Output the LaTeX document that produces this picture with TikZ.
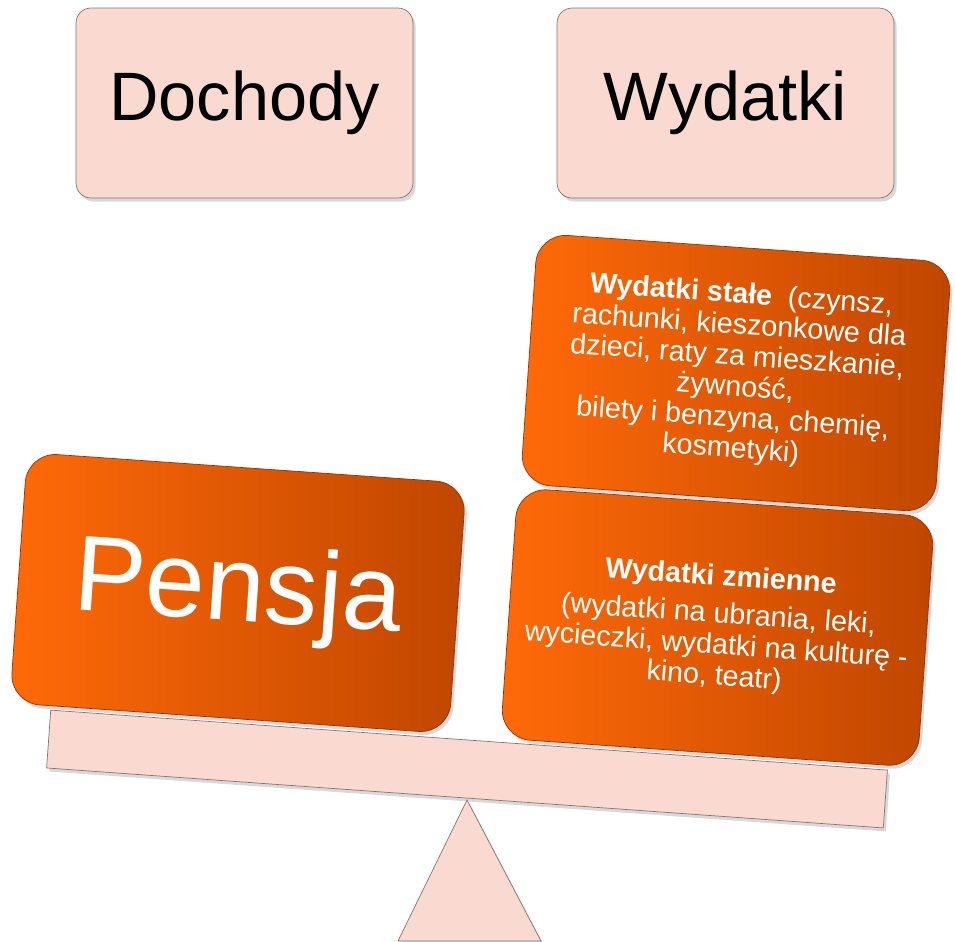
\documentclass[tikz,border=0pt]{standalone}
\usepackage{fontspec}
\setmainfont{Liberation Sans}
\usetikzlibrary{shadows}
\definecolor{pinkfill}{RGB}{250,218,208}
\definecolor{pinkline}{RGB}{135,115,110}
\definecolor{orangelight}{RGB}{255,106,8}
\definecolor{orangemid}{RGB}{238,94,4}
\definecolor{orangedark}{RGB}{192,70,0}
\definecolor{orangeline}{RGB}{140,55,10}

\begin{document}
\begin{tikzpicture}[x=0.02cm, y=-0.02cm,
  softshadow/.style={drop shadow={opacity=0.3, shadow xshift=1.5pt, shadow yshift=-2pt}},
  headbox/.style={draw=pinkline, fill=pinkfill, rounded corners=0.3cm,
    minimum width=6.74cm, minimum height=3.8cm, softshadow,
    font=\fontsize{39}{45}\selectfont},
  weightbox/.style={draw=orangeline, left color=orangelight, middle color=orangemid,
    right color=orangedark, rounded corners=0.6cm, minimum height=5.02cm,
    rotate=-4, softshadow, text=white, align=center},
  beampart/.style={draw=pinkline, fill=pinkfill, softshadow},
  smalltext/.style={font=\fontsize{16.3}{17.6}\selectfont}]

\useasboundingbox (0,0) rectangle (955,941);

\draw[beampart] (467,800) -- (541,941) -- (398,941) -- cycle;
\node[beampart, minimum width=16.78cm, minimum height=1.16cm, rotate=-4.1] (beam) at (467,769) {};

\node[headbox] (dochody) at (244.5,103) {Dochody};
\node[headbox] (wydatki) at (725.5,103) {Wydatki};

\node[weightbox, minimum width=8.8cm, font=\fontsize{61}{70}\selectfont] (pensja) at (238,593) {Pensja};
\node[weightbox, minimum width=8.3cm, smalltext] (stale) at (736,373)
  {\textbf{Wydatki stałe}\ \ (czynsz,\\ rachunki, kieszonkowe dla\\ dzieci, raty za mieszkanie,\\ żywność,\\ bilety i benzyna, chemię,\\ kosmetyki)};
\node[weightbox, minimum width=8.36cm, smalltext] (zmienne) at (717.5,627.5)
  {\textbf{Wydatki zmienne}\\[4pt] (wydatki na ubrania, leki,\\ wycieczki, wydatki na kulturę -\\ kino, teatr)};

\end{tikzpicture}
\end{document}
